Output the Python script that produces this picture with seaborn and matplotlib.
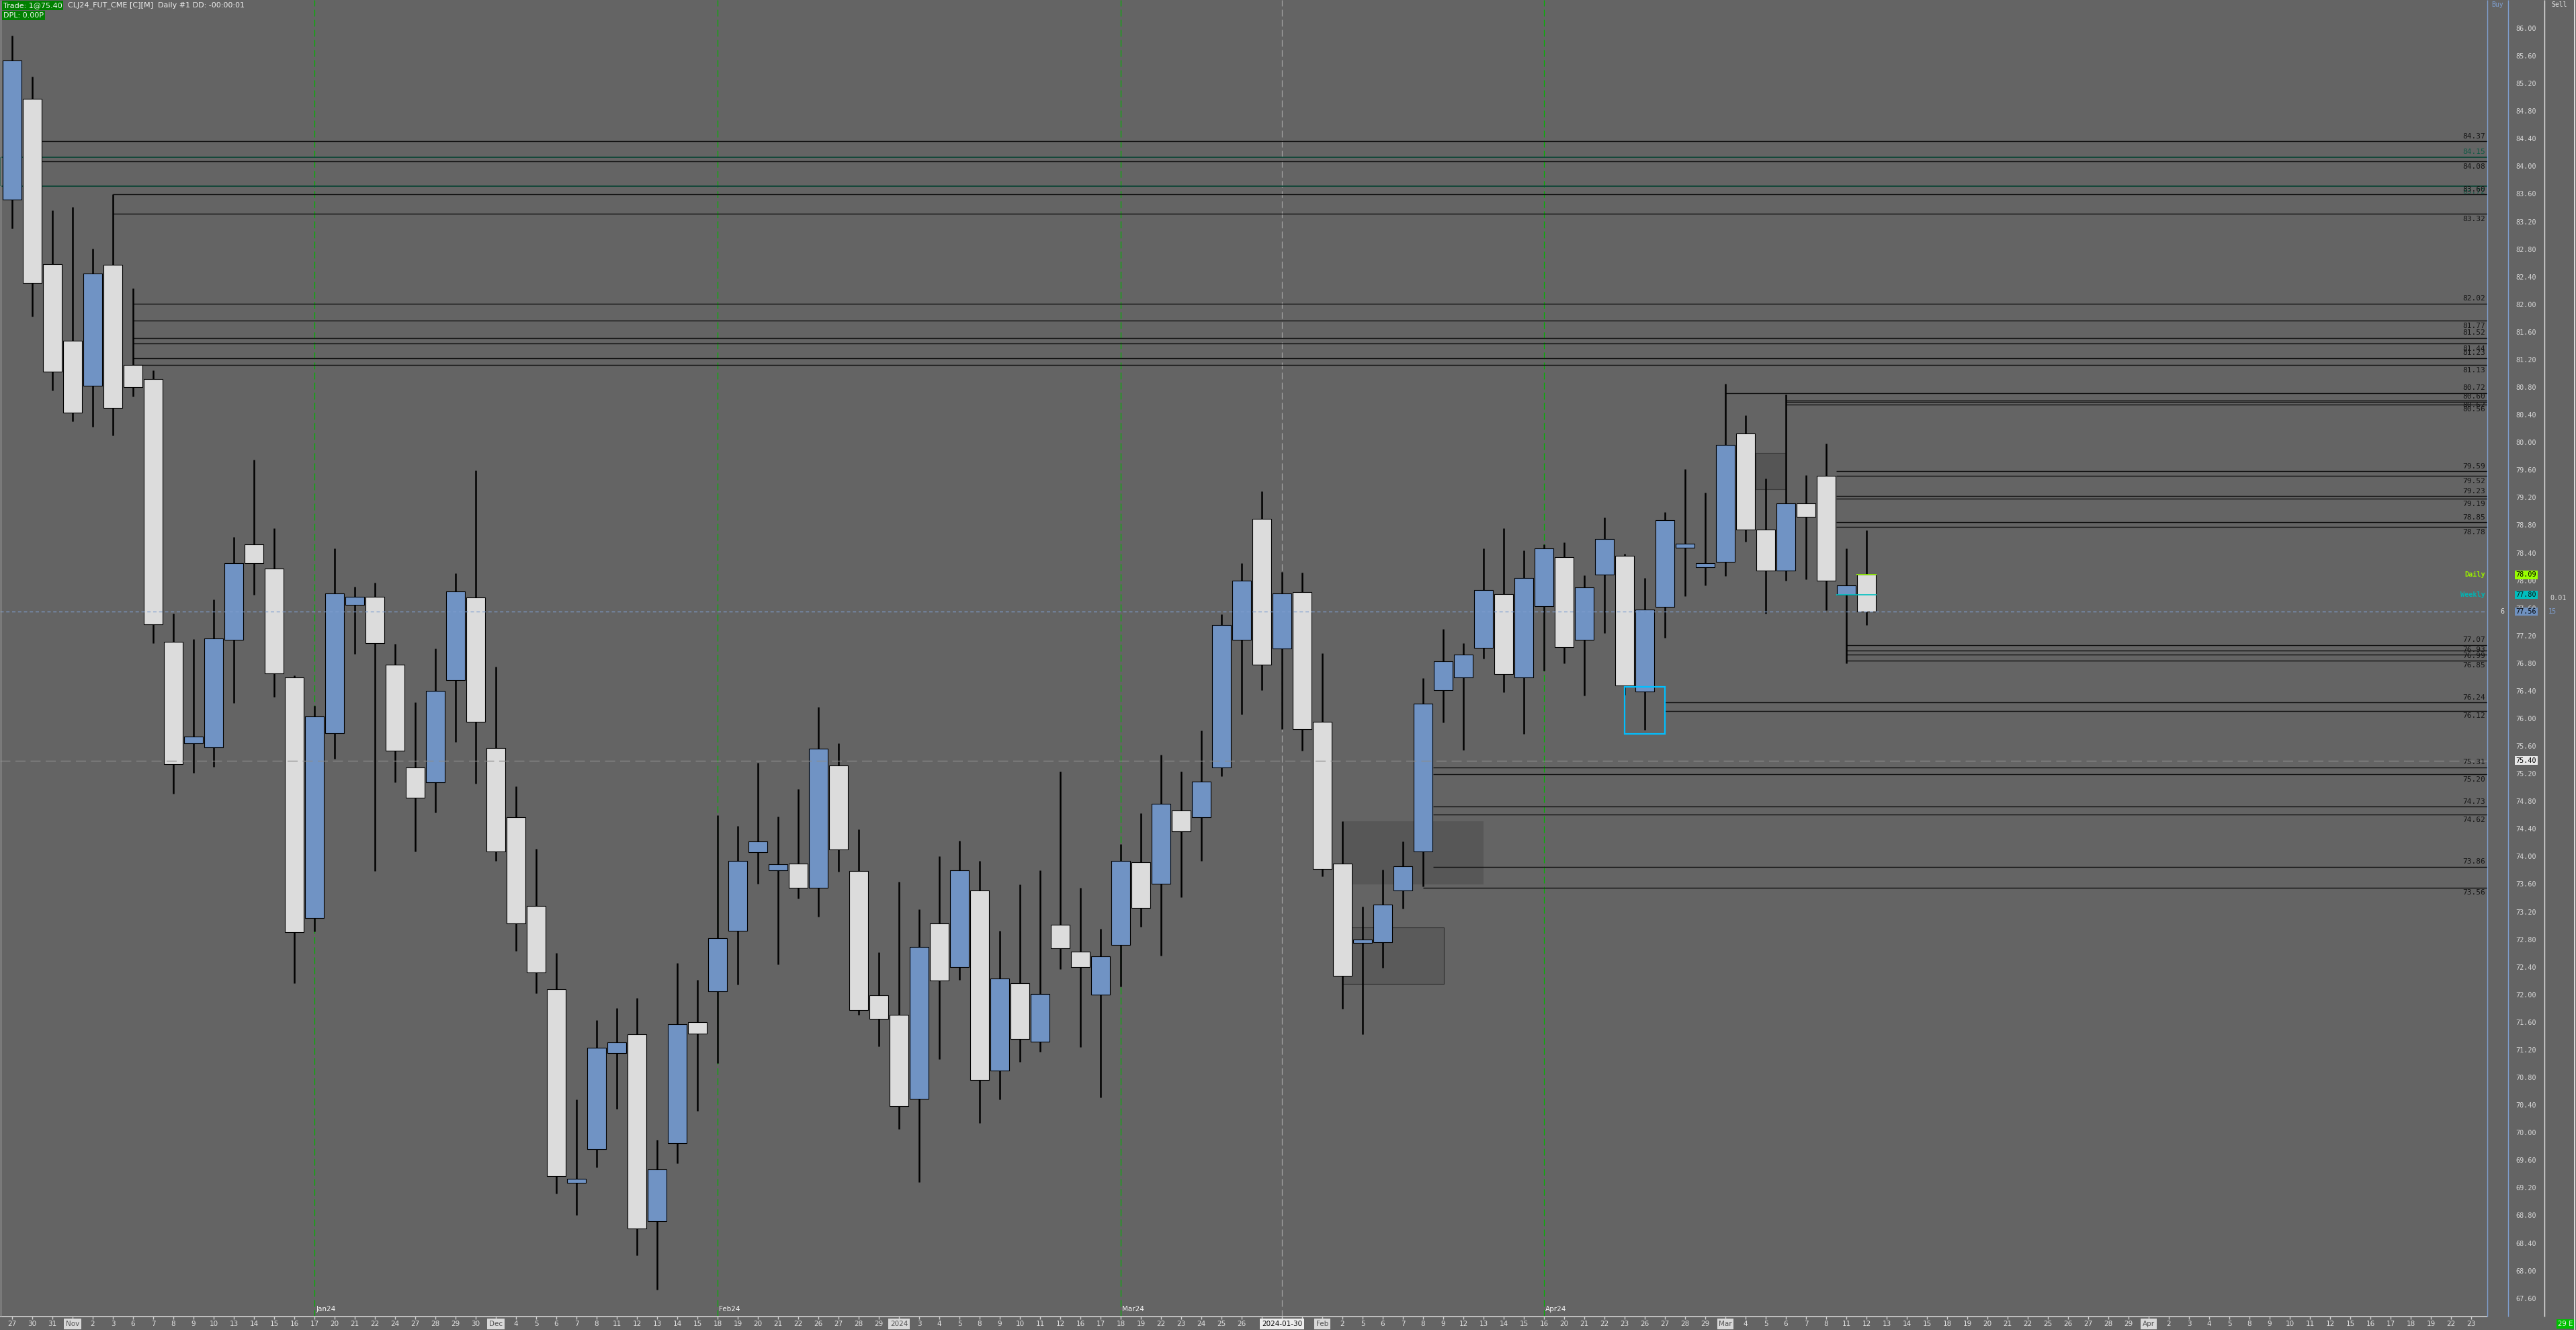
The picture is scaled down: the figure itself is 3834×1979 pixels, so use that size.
import numpy as np
import pandas as pd
import matplotlib
matplotlib.use("Agg")
import matplotlib.pyplot as plt
import seaborn as sns
from matplotlib import transforms
from matplotlib.patches import Rectangle
from matplotlib import font_manager as fm

# ---------------- data ----------------
date_labels = ["27","30","31","Nov","2","3","6","7","8","9","10","13","14","15","16","17","20","21","22","24",
               "27","28","29","30","Dec","4","5","6","7","8","11","12","13","14","15","18","19","20","21","22",
               "26","27","28","29","2024","3","4","5","8","9","10","11","12","16","17","18","19","22","23","24",
               "25","26","29","30","31","Feb","2","5","6","7","8","9","12","13","14","15","16","20","21","22",
               "23","26","27","28","29","Mar","4","5","6","7","8","11","12","13","14","15","18","19","20","21",
               "22","25","26","27","28","29","Apr","2","3","4","5","8","9","10","11","12","15","16","17","18",
               "19","22","23"]
month_start_labels = ["Nov", "Dec", "2024", "Feb", "Mar", "Apr"]
cursor_index = 63
cursor_label = "2024-01-30"

opens = [83.53,84.99,82.59,81.48,80.83,82.58,81.13,80.93,77.12,75.65,75.59,77.15,78.53,78.18,76.60,73.12,75.80,77.66,77.77,76.79,
         75.30,75.08,76.56,77.76,75.58,74.58,73.29,72.09,69.28,69.77,71.16,71.43,68.73,69.86,71.61,72.06,72.93,74.07,73.81,73.91,
         73.56,75.33,73.80,72.00,71.72,70.50,73.04,72.41,73.52,70.91,72.17,71.33,73.02,72.63,72.01,72.73,73.93,73.61,74.68,74.58,
         75.30,77.15,78.90,77.02,77.84,75.96,73.91,72.76,72.77,73.52,74.08,76.42,76.60,77.03,77.81,76.60,77.64,78.35,77.15,78.09,
         78.37,76.40,77.63,78.48,78.20,78.28,80.14,78.75,78.15,79.13,79.52,77.80,78.09]
highs = [85.90,85.31,83.37,83.42,82.82,83.60,82.24,81.05,77.53,77.16,77.73,78.64,79.76,78.77,76.63,76.19,78.47,77.92,77.98,77.09,
         76.24,77.02,78.11,79.60,76.76,75.03,74.12,72.61,70.49,71.64,71.81,71.96,69.90,72.47,72.22,74.61,74.45,75.37,74.59,74.99,
         76.18,75.65,74.40,72.62,73.64,73.24,74.01,74.24,73.95,72.93,73.60,73.81,75.24,73.56,72.96,74.19,74.64,75.48,75.24,75.83,
         77.52,78.26,79.30,78.13,78.12,76.95,74.52,73.28,73.82,74.23,76.59,77.30,77.10,78.47,78.77,78.44,78.53,78.56,78.08,78.92,
         78.40,78.04,79.00,79.62,79.28,80.86,80.40,79.49,80.70,79.53,79.99,78.47,78.74]
lows = [83.11,81.83,80.76,80.31,80.24,80.11,80.67,77.10,74.92,75.22,75.31,76.23,77.80,76.32,72.17,72.92,75.43,76.94,73.80,75.08,
        74.08,74.65,75.67,75.07,73.95,72.64,72.03,69.13,68.81,69.51,70.35,68.23,67.73,69.56,70.32,71.01,72.15,73.61,72.45,73.40,
        73.14,73.79,71.72,71.26,70.06,69.29,71.07,72.22,70.15,70.49,71.03,71.18,72.38,71.25,70.52,72.12,72.99,72.57,73.42,73.95,
        75.17,76.07,76.42,75.85,75.54,73.72,71.80,71.43,72.40,73.25,73.58,75.95,75.55,76.88,76.39,75.79,76.70,76.81,76.34,77.25,
        76.35,75.84,77.18,77.78,77.94,78.07,78.57,77.53,78.01,78.03,77.58,76.81,77.36]
closes = [85.54,82.32,81.03,80.44,82.46,80.51,80.81,77.37,75.35,75.75,77.17,78.26,78.26,76.66,72.91,76.04,77.82,77.77,77.10,75.54,
          74.86,76.41,77.85,75.96,74.08,73.04,72.33,69.38,69.34,71.24,71.32,68.62,69.48,71.58,71.44,72.83,73.95,74.23,73.90,73.56,
          75.57,74.11,71.78,71.66,70.39,72.70,72.21,73.81,70.77,72.24,71.37,72.02,72.68,72.41,72.56,73.95,73.26,74.77,74.37,75.09,
          77.36,78.01,76.79,77.82,75.85,73.83,72.28,72.80,73.31,73.87,76.22,76.84,76.93,77.87,76.65,78.04,78.47,77.04,77.91,78.61,
          76.49,77.59,78.88,78.54,78.26,79.97,78.75,78.15,79.13,78.93,78.01,77.94,77.56]

# horizontal levels: price, label, first bar, label side (+1 above / -1 below), colour key
level_prices = [84.37,84.14,84.08,83.72,83.60,83.32,82.02,81.77,81.52,81.44,81.23,81.13,80.72,80.62,80.60,80.56,
                79.59,79.52,79.23,79.19,78.85,78.78,77.07,76.99,76.93,76.85,76.24,76.12,75.30,75.20,74.73,74.62,73.86,73.56]
level_labels = ["84.37","84.15","84.08","83.72","83.60","83.32","82.02","81.77","81.52","81.44","81.23","81.13","80.72","80.62","80.60","80.56",
                "79.59","79.52","79.23","79.19","78.85","78.78","77.07","76.99","76.93","76.85","76.24","76.12","75.31","75.20","74.73","74.62","73.86","73.56"]
level_start = [1.47,-0.55,1.47,-0.55,5,5,6,6,6,6,6,6,85,88,88,88,
               90.5,90.5,90.5,90.5,90.5,90.5,91,91,91,91,82,82,70.5,70.5,70.5,70.5,70.5,70]
level_side = [1,1,-1,-1,1,-1,1,-1,1,-1,1,-1,1,-1,1,-1,
              1,-1,1,-1,1,-1,1,-1,1,-1,1,-1,1,-1,1,-1,1,-1]
level_kind = ["k","g","k","g"] + ["k"] * 30

price_ticks = [round(86.0 - 0.4 * k, 2) for k in range(47)]
expiry_bars = [15, 35, 55, 76]
expiry_labels = ["Jan24", "Feb24", "Mar24", "Apr24"]

daily_open, weekly_open, last_price, trade_price = 78.09, 77.80, 77.56, 75.40

# zones: (bar0, bar1, price_low, price_high)
zone_dark = (66.0, 73.0, 73.60, 74.52)
zone_box = (66.0, 71.03, 72.16, 72.98)
zone_gap = (86.5, 88.0, 79.33, 79.86)
zone_cyan = (80.0, 82.0, 75.79, 76.47)

# ---------------- style ----------------
BG = "#646464"
BLUE = "#7093c4"
WHITE = "#dcdcdc"
sns.set_theme(style="dark", rc={"axes.facecolor": BG, "figure.facecolor": BG,
                                "axes.edgecolor": BG, "grid.color": BG})
plt.rcParams["font.family"] = ["DejaVu Sans"]
names = {f.name for f in fm.fontManager.ttflist}
NARROW = "Liberation Sans Narrow" if "Liberation Sans Narrow" in names else "DejaVu Sans"
MONO = "DejaVu Sans Mono"

W, H = 3834, 1979
PLOT_R, AX_BOT = 3702, 1959
fig = plt.figure(figsize=(W / 100, H / 100), dpi=100, facecolor=BG)
ax = fig.add_axes([0, (H - AX_BOT) / H, PLOT_R / W, AX_BOT / H])
ax.set_facecolor(BG)
ax.set_xlim(-0.6, 122.8)
ax.set_ylim(86 - (AX_BOT - 43) / 102.7, 86 + 43 / 102.7)
ax.set_xticks([]); ax.set_yticks([])
ax.grid(False)
sns.despine(ax=ax, left=True, bottom=True)

ov = fig.add_axes([0, 0, 1, 1], zorder=10)
ov.set_xlim(0, W); ov.set_ylim(H, 0); ov.axis("off"); ov.patch.set_alpha(0)
tr_px_price = transforms.blended_transform_factory(ov.transData, ax.transData)
tr_bar_px = transforms.blended_transform_factory(ax.transData, ov.transData)

# ---------------- candles ----------------
df = pd.DataFrame({"o": opens, "h": highs, "l": lows, "c": closes})
df["i"] = np.arange(len(df))
up = df["c"] >= df["o"]
ax.vlines(df["i"], df["l"], df["h"], color="black", lw=1.8, zorder=3)
body = (df["c"] - df["o"]).abs().clip(lower=0.05)
ax.bar(df["i"], body, bottom=np.minimum(df["o"], df["c"]), width=0.95,
       color=np.where(up, BLUE, WHITE), edgecolor="black", linewidth=0.8, zorder=4)

# zones
for (x0, x1, p0, p1), fc, ec, lw in [(zone_dark, "#575757", "none", 0),
                                      (zone_box, "#5a5a5a", "#2e2e2e", 0.8),
                                      (zone_gap, "#555555", "#3a3a3a", 0.8)]:
    ax.add_patch(Rectangle((x0, p0), x1 - x0, p1 - p0, facecolor=fc, edgecolor=ec, lw=lw, zorder=1))
x0, x1, p0, p1 = zone_cyan
ax.add_patch(Rectangle((x0, p0), x1 - x0, p1 - p0, facecolor="none", edgecolor="#00bfff", lw=1.6, zorder=5))

# levels
xmax = ax.get_xlim()[1]
for p, lbl, s, side, k in zip(level_prices, level_labels, level_start, level_side, level_kind):
    col = "#0d4536" if k == "g" else "#111111"
    ax.hlines(p, s, xmax, color=col, lw=1.0 if k == "k" else 1.3, zorder=2)
    ax.annotate(lbl, xy=(1.0, p), xycoords=("axes fraction", "data"), xytext=(-2, side * 5.6),
                textcoords="offset points", ha="right", va="center", fontsize=8, family=MONO,
                color=("#0f5a45" if k == "g" else "#151515"), zorder=6)
ax.vlines(-0.55, 83.72, 84.14, color="#0d4536", lw=1.3, zorder=2)

# open lines on the last bars
ax.hlines(daily_open, 91.5, 92.5, color="#99ff00", lw=1.2, zorder=6)
ax.hlines(weekly_open, 90.5, 92.5, color="#00c0c0", lw=1.2, zorder=6)

# dashed reference lines
ax.axhline(last_price, color="#7f9fcf", lw=0.9, ls=(0, (4, 3)), zorder=5)
ax.axhline(trade_price, color="#8c8c8c", lw=0.9, ls=(0, (12, 6)), zorder=5)
for b in expiry_bars:
    ax.axvline(b, color="#00b400", lw=0.9, ls=(0, (8, 4)), zorder=1)
ax.axvline(cursor_index, color="#a0a0a0", lw=0.9, ls=(0, (8, 4)), zorder=1)

# ---------------- frame / panels ----------------
ov.hlines(AX_BOT, 0, PLOT_R, color="#d0d0d0", lw=1.2)
ov.vlines(0.5, 0, AX_BOT, color="#9a9a9a", lw=1.0)
ov.vlines(3702, 0, AX_BOT, color="#7f9fcf", lw=1.0)
ov.vlines(3733, 0, AX_BOT, color="#7f9fcf", lw=1.0)
ov.vlines(3787, 0, AX_BOT, color="#e6e6e6", lw=1.0)
ov.vlines(3832, 0, H, color="#f0f0f0", lw=1.2)
ov.text(3717, 7, "Buy", color="#7f9fcf", fontsize=7, ha="center", va="center", family=MONO)
ov.text(3809, 7, "Sell", color="#e6e6e6", fontsize=7, ha="center", va="center", family=MONO)

for p in price_ticks:
    ov.text(3760, p, f"{p:.2f}", transform=tr_px_price, ha="center", va="center",
            fontsize=7.3, family=MONO, color="#d8d8d8")
for p, fc, tc in [(daily_open, "#99ff00", "#000000"), (weekly_open, "#00bebe", "#111111"),
                  (last_price, "#6f91c0", "#000000"), (trade_price, "#e8e8e8", "#000000")]:
    ov.text(3760, p, f"{p:.2f}", transform=tr_px_price, ha="center", va="center", fontsize=7.3,
            family=MONO, color=tc, zorder=12,
            bbox=dict(boxstyle="square,pad=0.12", fc=fc, ec="none"))
ov.text(3699, daily_open, "Daily", transform=tr_px_price, ha="right", va="center",
        fontsize=7.3, family=MONO, color="#99ee00", fontweight="bold")
ov.text(3699, weekly_open, "Weekly", transform=tr_px_price, ha="right", va="center",
        fontsize=7.3, family=MONO, color="#00b4b4", fontweight="bold")
ov.text(3724, last_price, "6", transform=tr_px_price, ha="center", va="center",
        fontsize=7.3, family=MONO, color="#e6e6e6")
ov.text(3795, 77.75, "0.01", transform=tr_px_price, ha="left", va="center",
        fontsize=7.3, family=MONO, color="#d8d8d8")
ov.text(3793, last_price, "15", transform=tr_px_price, ha="left", va="center",
        fontsize=7.3, family=MONO, color="#7f9fcf")
ov.text(3818, 1970, "29 E", ha="center", va="center", fontsize=7.3, color="#f0f0f0",
        family=NARROW, bbox=dict(boxstyle="square,pad=0.2", fc="#00c000", ec="none"))

# header
ov.text(5, 8, "Trade: 1@75.40", ha="left", va="center", fontsize=8, color="#f4f4f4",
        bbox=dict(boxstyle="square,pad=0.15", fc="#008000", ec="none"))
ov.text(101, 8, "CLJ24_FUT_CME [C][M]  Daily #1 DD: -00:00:01", ha="left", va="center",
        fontsize=8, color="#efefef")
ov.text(5, 23, "DPL: 0.00P", ha="left", va="center", fontsize=8, color="#f4f4f4",
        bbox=dict(boxstyle="square,pad=0.15", fc="#008000", ec="none"))

# ---------------- date axis ----------------
idx = np.arange(len(date_labels))
ov.vlines(idx, AX_BOT, AX_BOT + 4, transform=tr_bar_px, color="#d0d0d0", lw=1.0)
for i, lbl in enumerate(date_labels):
    if abs(i - cursor_index) <= 1:
        continue
    if lbl in month_start_labels and not lbl.isdigit() or lbl == "2024":
        ov.text(i, 1970, lbl, transform=tr_bar_px, ha="center", va="center", fontsize=7.5,
                family=NARROW, color="#555555",
                bbox=dict(boxstyle="square,pad=0.25", fc="#d8d8d8", ec="none"))
    else:
        ov.text(i, 1970, lbl, transform=tr_bar_px, ha="center", va="center", fontsize=7.5,
                family=NARROW, color="#e2e2e2")
ov.text(cursor_index, 1970, cursor_label, transform=tr_bar_px, ha="center", va="center",
        fontsize=7.5, family=NARROW, color="#111111",
        bbox=dict(boxstyle="square,pad=0.25", fc="#ececec", ec="none"))
for b, lbl in zip(expiry_bars, expiry_labels):
    ov.text(b + 0.07, 1948, lbl, transform=tr_bar_px, ha="left", va="center", fontsize=7.5,
            family=NARROW, color="#f2f2f2")

fig.savefig("out.png", dpi=100, facecolor=BG)
